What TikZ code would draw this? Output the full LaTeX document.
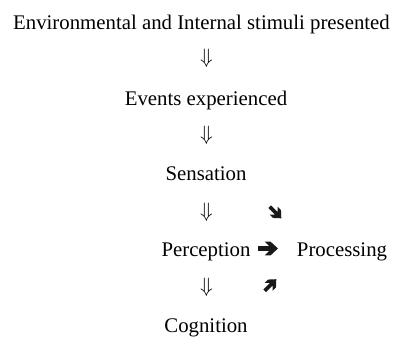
\documentclass[tikz,border=0pt]{standalone}
\usepackage{fontspec}
\setmainfont{Liberation Serif}
\begin{document}
\begin{tikzpicture}[x=1pt,y=-1pt,
  txt/.style={font=\fontsize{20.8}{24}\selectfont, inner sep=0pt, anchor=base},
  darr/.style={font=\fontsize{20.8}{24}\selectfont, inner sep=0pt},
  heavyarrow/.pic={\fill[black!90] (-10,-2.3) -- (1.2,-2.3) -- (-3.2,-6.8) -- (2.6,-6.8) -- (10,0) -- (2.6,6.8) -- (-3.2,6.8) -- (1.2,2.3) -- (-10,2.3) -- cycle;}]
\useasboundingbox (0,0) rectangle (401,338);
\node[txt] (env) at (201.5,29) {Environmental and Internal stimuli presented};
\node[darr] (a1) at (206.5,58) {$\Downarrow$};
\node[txt] (ev) at (206,105) {Events experienced};
\node[darr] (a2) at (206.5,135.5) {$\Downarrow$};
\node[txt] (sen) at (206,180.5) {Sensation};
\node[darr] (a3) at (206.5,212) {$\Downarrow$};
\pic[scale=0.82, rotate=-45] at (275.5,212.5) {heavyarrow};
\node[txt] (per) at (206,256) {Perception};
\pic at (268,248.5) {heavyarrow};
\node[txt] (pro) at (342,256) {Processing};
\node[darr] (a4) at (206.5,287) {$\Downarrow$};
\pic[scale=0.82, rotate=45] at (270.5,285) {heavyarrow};
\node[txt] (cog) at (206,332) {Cognition};
\end{tikzpicture}
\end{document}
